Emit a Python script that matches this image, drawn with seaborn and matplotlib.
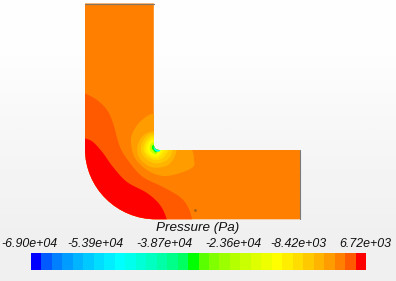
import numpy as np
import seaborn as sns
import matplotlib
matplotlib.use("Agg")
import matplotlib.pyplot as plt
from matplotlib.colors import ListedColormap
from matplotlib.patches import PathPatch, Polygon
from matplotlib.path import Path

sns.set_theme(style="white")
plt.rcParams['font.family'] = ['Liberation Sans', 'DejaVu Sans']

# Colour-bar
title = "Pressure (Pa)"
tick_labels = ["-6.90e+04", "-5.39e+04", "-3.87e+04", "-2.36e+04", "-8.42e+03", "6.72e+03"]
tick_positions = [29, 95, 164, 233, 298.5, 365]
level_colors = ["#0000FF", "#005AFF", "#0080FF", "#009CFF", "#00B4FF", "#00C9FF", "#00DDFF", "#00EEFF",
                "#00FFFF", "#00FFEC", "#00FFD7", "#00FFC1", "#00FFA7", "#00FF88", "#00FF60", "#00FF00",
                "#5AFF00", "#80FF00", "#9CFF00", "#B4FF00", "#C9FF00", "#DDFF00", "#EEFF00", "#FFFF00",
                "#FFEE00", "#FFDD00", "#FFC900", "#FFB400", "#FF9C00", "#FF8000", "#FF5A00", "#FF0000"]
level_index = list(range(32))

# Contour outlines (pixels)
dark_orange = [(70, 86), (85, 93.3), (97, 100), (107, 110), (113, 123), (120, 147), (130, 163), (143, 177),
               (163, 187), (180, 197), (188, 207), (192, 219), (194, 235), (70, 240), (60, 160)]
red = [(70, 132), (85, 138.3), (93, 142), (103, 153), (113, 167), (127, 182), (147, 193), (160, 205),
       (166.7, 219.3), (169, 235), (70, 240), (60, 190)]
ring_28 = [(156, 114), (142, 120), (133, 132), (131, 143), (135, 158), (147, 170), (163, 176), (180, 173),
           (193, 167), (194, 160), (191, 148), (175, 130)]
ring_27 = [(156, 131), (147, 133), (141, 138), (137.5, 146), (138, 155), (143, 162), (151, 167), (160, 167.5),
           (168, 165), (174, 158), (176, 148), (166, 136)]
ring_26 = [(156, 133), (149, 134.5), (144, 139), (141, 146), (141.5, 153), (146, 159), (153, 163), (160, 163),
           (167, 160), (171, 155), (172, 148), (164, 137)]
ring_25 = [(156, 135), (150, 136.5), (146, 141), (143.5, 147), (144, 152), (148, 157), (154, 160), (160, 159.5),
           (165, 156), (169, 148), (163, 139)]
ring_24 = [(156, 137), (151, 138.5), (147.5, 142), (145.5, 147), (146, 152), (150, 156), (155, 158), (160, 156.5),
           (166, 148), (161, 141)]
ring_23 = [(156, 139), (151, 140.5), (149, 143), (147.5, 148), (148.5, 152), (151, 154.5), (155, 156), (159, 154.5),
           (163, 148), (159, 142)]
ring_20 = [(156, 142), (152, 143), (150, 146), (150, 150), (152.5, 153), (156, 154.5), (160, 148), (158, 144)]
ring_15 = [(156, 144), (152.5, 145.5), (152, 148.5), (154, 151), (156, 152.5), (159, 148), (158, 145)]
ring_8 = [(154, 146), (154, 149), (156.5, 151.5), (160, 151), (160, 148), (156, 147)]
zones = [(dark_orange, 30), (red, 31), (ring_28, 28), (ring_27, 27), (ring_26, 26), (ring_25, 25),
         (ring_24, 24), (ring_23, 23), (ring_20, 20), (ring_15, 15), (ring_8, 8)]

# Pipe outline (pixels)
left, right, top, bottom, wall_x, wall_y = 85, 300, 3.5, 219.3, 153.8, 150
bg_shades = [[0.995], [0.965], [0.94]]


def smooth(points, n=8):
    """Closed Catmull-Rom curve through the outline points, for the drawn edge only."""
    p = np.asarray(points, float)
    t = np.linspace(0, 1, n, endpoint=False)[:, None]
    out = []
    for i in range(len(p)):
        p0, p1, p2, p3 = p[i - 1], p[i], p[(i + 1) % len(p)], p[(i + 2) % len(p)]
        out.append(0.5 * (2 * p1 + (p2 - p0) * t + (2 * p0 - 5 * p1 + 4 * p2 - p3) * t**2
                          + (3 * p1 - p0 - 3 * p2 + p3) * t**3))
    return np.vstack(out)


fig = plt.figure(figsize=(3.96, 2.81), dpi=100)
ax = fig.add_axes([0, 0, 1, 1])
ax.imshow(bg_shades, cmap="gray", vmin=0, vmax=1, extent=(0, 396, 281, 0), aspect="auto", interpolation="bilinear")
ax.set_xlim(0, 396)
ax.set_ylim(281, 0)
ax.axis("off")

verts = [(left, top), (wall_x, top), (wall_x, 144.5), (wall_x, wall_y), (159.5, wall_y), (right, wall_y),
         (right, bottom), (156, bottom), (117, bottom), (left, 188), (left, 149), (left, top), (left, top)]
codes = [Path.MOVETO, Path.LINETO, Path.LINETO, Path.CURVE3, Path.CURVE3, Path.LINETO,
         Path.LINETO, Path.LINETO, Path.CURVE4, Path.CURVE4, Path.CURVE4, Path.LINETO, Path.CLOSEPOLY]
pipe = PathPatch(Path(verts, codes), facecolor=level_colors[29], edgecolor="none", zorder=2)
ax.add_patch(pipe)

for outline, idx in zones:
    p = Polygon(smooth(outline), closed=True, facecolor=level_colors[idx], edgecolor="none", zorder=3)
    ax.add_patch(p)
    p.set_clip_path(pipe)

ax.plot([left, wall_x], [top, top], color="#8a7560", lw=0.9, zorder=4)
ax.plot([right, right], [wall_y, bottom], color="#7a7a7a", lw=0.8, zorder=4)
ax.plot([194.7], [210.3], marker="s", ms=0.8, color="#a05a10", zorder=4)

ax.text(198, 227.5, title, style="italic", fontsize=9.7, color="#111111", ha="center", va="center")
for pos, lab in zip(tick_positions, tick_labels):
    ax.text(pos, 244, lab, style="italic", fontsize=8.9, color="#111111", ha="center", va="center")

cax = fig.add_axes([31 / 396, (281 - 270) / 281, 335 / 396, 17.5 / 281])
sns.heatmap(np.array([level_index]), ax=cax, cmap=ListedColormap(level_colors), vmin=-0.5, vmax=31.5,
            cbar=False, xticklabels=False, yticklabels=False)

fig.savefig("out.png", dpi=100)
